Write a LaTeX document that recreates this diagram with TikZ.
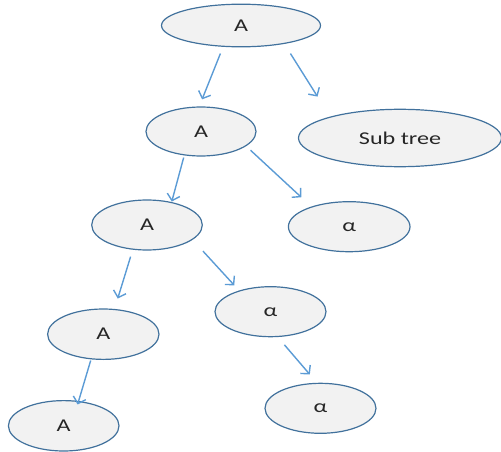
\documentclass[tikz,border=0pt]{standalone}
\usepackage{fontspec}
\usetikzlibrary{shapes.geometric,arrows.meta}
\newfontfamily\labelfont[FakeStretch=1.34]{Carlito}
\definecolor{nodefill}{HTML}{F2F2F2}
\definecolor{nodeline}{HTML}{41719C}
\definecolor{arrowblue}{HTML}{5B9BD5}
\begin{document}
\begin{tikzpicture}[x=1pt,y=-1pt,
  treenode/.style={ellipse,draw=nodeline,fill=nodefill,line width=1.2pt,
    inner sep=0pt,text=black!85,font=\labelfont\fontsize{18}{20}\selectfont},
  arr/.style={draw=arrowblue,line width=1.4pt,
    -{Straight Barb[length=6pt,width=13pt,line width=1.4pt]}}]
\useasboundingbox (0,0) rectangle (501,452);

% tree nodes
\node[treenode,minimum width=159pt,minimum height=42.6pt] (n1) at (241,25.5) {A};
\node[treenode,minimum width=110pt,minimum height=49pt] (n2) at (201,131.5) {A};
\node[treenode,minimum width=203pt,minimum height=57.4pt] (n3) at (400,138) {Sub tree};
\node[treenode,minimum width=121.6pt,minimum height=50pt] (n4) at (349.2,226.7) {α};
\node[treenode,minimum width=110.6pt,minimum height=50pt] (n5) at (147,225) {A};
\node[treenode,minimum width=111pt,minimum height=50pt] (n6) at (270.5,311.7) {α};
\node[treenode,minimum width=111.4pt,minimum height=50.4pt] (n7) at (103.3,334.2) {A};
\node[treenode,minimum width=111pt,minimum height=50pt] (n8) at (320.5,408.3) {α};
\node[treenode,minimum width=110.6pt,minimum height=50.4pt] (n9) at (63.7,425.8) {A};

% connectors
\draw[arr,shorten <=7.2pt,shorten >=7.6pt] (n1.230.3) -- (n2.94.4);
\draw[arr,shorten <=11.4pt,shorten >=23.7pt] (n1.337.4) -- (n3.163.2);
\draw[arr,shorten <=2.2pt,shorten >=0.5pt] (n2.235) -- (n5.43.4);
\draw[arr,shorten <=6pt,shorten >=13.7pt] (n2.342.2) -- (n4.152.9);
\draw[arr,shorten <=7.2pt,shorten >=10.9pt] (n5.240.2) -- (n7.66.5);
\draw[arr,shorten <=15.4pt,shorten >=7.1pt] (n5.342.1) -- (n6.146.5);
\draw[arr,shorten <=1.2pt,shorten >=-3.7pt] (n7.244.1) -- (n9.59.4);
\draw[arr,shorten <=10.2pt,shorten >=10.9pt] (n6.286.3) -- (n8.98.0);
\end{tikzpicture}
\end{document}
